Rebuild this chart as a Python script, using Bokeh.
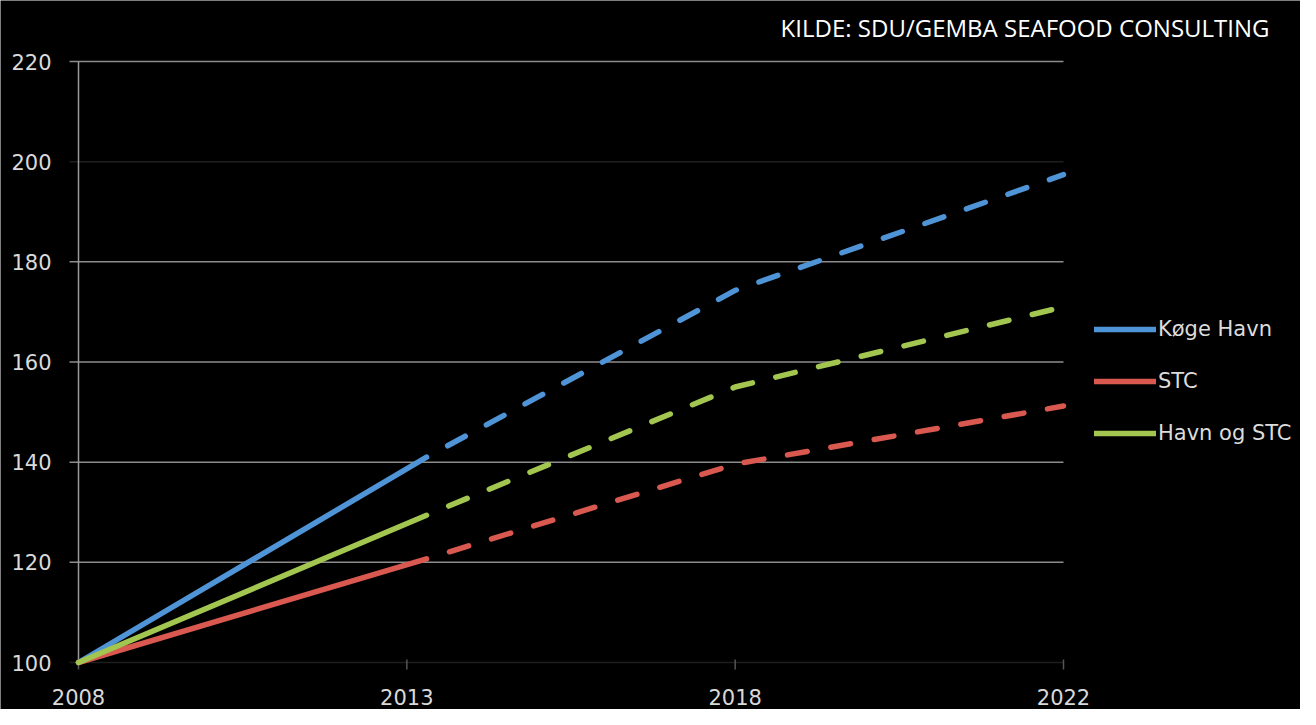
from bokeh.plotting import figure
from bokeh.models import Range1d, Legend, LegendItem, Label
from bokeh.core.properties import value
from bokeh.embed import file_html
from bokeh.resources import INLINE

# ---- data ----
year_labels = ["2008", "2013", "2018", "2022"]
tick_pos = [0, 5, 10, 15]

solid_x = [0, 5.3]
dashed_x = [5.3, 10, 15]

koge_solid = [100, 141.0]
koge_dashed = [141.0, 174.3, 197.4]
stc_solid = [100, 120.7]
stc_dashed = [120.7, 139.6, 151.2]
havn_stc_solid = [100, 129.4]
havn_stc_dashed = [129.4, 155.0, 171.0]

series_names = ["Køge Havn", "STC", "Havn og STC"]
series_colors = ["#4F94D6", "#D9584F", "#A2C650"]

y_ticks = [100, 120, 140, 160, 180, 200, 220]
y_tick_labels = ["100", "120", "140", "160", "180", "200", "220"]
grid_ticks = [120, 140, 160, 180, 220]
faint_grid = [100, 200]

title_text = "KILDE: SDU/GEMBA SEAFOOD CONSULTING"

# ---- layout (pixels) ----
W, H = 1300, 709
PLOT_LEFT, PLOT_W, PLOT_TOP, PLOT_H = 78, 985, 61, 601   # area for x 0..15, y 100..220
x_min, x_max, y_min, y_max = 0, 15, 100, 220
px_x = PLOT_W / (x_max - x_min)
px_y = PLOT_H / (y_max - y_min)
x_lo = x_min - PLOT_LEFT / px_x
x_hi = x_min + (W - PLOT_LEFT) / px_x
y_top = y_max + PLOT_TOP / px_y
y_bot = y_min - (H - PLOT_TOP - PLOT_H) / px_y

p = figure(width=W, height=H, output_backend="svg", toolbar_location=None,
           x_range=Range1d(x_lo, x_hi), y_range=Range1d(y_bot, y_top),
           min_border=0)
p.background_fill_color = "black"
p.border_fill_color = "black"
p.outline_line_color = None
p.grid.visible = False
p.axis.visible = False

tick_len = 9 / px_x
n = len(grid_ticks)
# gridlines (with outside tick stubs)
p.segment(x0=[x_min - tick_len] * n, x1=[x_max] * n, y0=grid_ticks, y1=grid_ticks,
          line_color="#8c8c8c", line_width=1.5)
p.segment(x0=[x_min - tick_len] * 2, x1=[x_max] * 2, y0=faint_grid, y1=faint_grid,
          line_color="#1e1e1e", line_width=1.5)
# y axis line
p.segment(x0=[x_min], x1=[x_min], y0=[y_min], y1=[y_max], line_color="#9a9a9a", line_width=1.5)
# y tick labels
p.text(x=[x_min - 27 / px_x] * len(y_ticks), y=y_ticks, text=y_tick_labels, text_align="right",
       text_baseline="middle", text_font=value("DejaVu Sans"), text_font_size="21px",
       text_color="#d9d9d9")
# x tick marks
p.segment(x0=tick_pos, x1=tick_pos, y0=[y_min + 3 / px_y] * 4, y1=[y_min - 7 / px_y] * 4,
          line_color="#555555", line_width=1.5)
# x tick labels
p.text(x=tick_pos, y=[y_min - 34 / px_y] * 4, text=year_labels, text_align="center",
       text_baseline="middle", text_font=value("DejaVu Sans"), text_font_size="21px",
       text_color="#d9d9d9")

solids = [koge_solid, stc_solid, havn_stc_solid]
dashes = [koge_dashed, stc_dashed, havn_stc_dashed]
items = []
for name, col, s, d in zip(series_names, series_colors, solids, dashes):
    r = p.line(solid_x, s, line_color=col, line_width=5.5, line_cap="round")
    p.line(dashed_x, d, line_color=col, line_width=5.5, line_cap="round",
           line_dash="20 24", line_dash_offset=20)
    items.append(LegendItem(label=name, renderers=[r]))

legend = Legend(items=items, location=(1094, 264), orientation="vertical",
                glyph_width=62, glyph_height=20, label_height=20, spacing=28,
                padding=0, margin=0, label_standoff=2,
                label_text_font="DejaVu Sans", label_text_font_size="21px",
                label_text_color="#dcdcdc", background_fill_alpha=0,
                border_line_alpha=0)
p.add_layout(legend)

p.add_layout(Label(x=1269, y=682, x_units="screen", y_units="screen", text=title_text,
                   text_align="right", text_baseline="middle", text_font="Open Sans",
                   text_font_size="24px", text_color="white"))

open("out.html", "w").write(file_html(p, INLINE))
